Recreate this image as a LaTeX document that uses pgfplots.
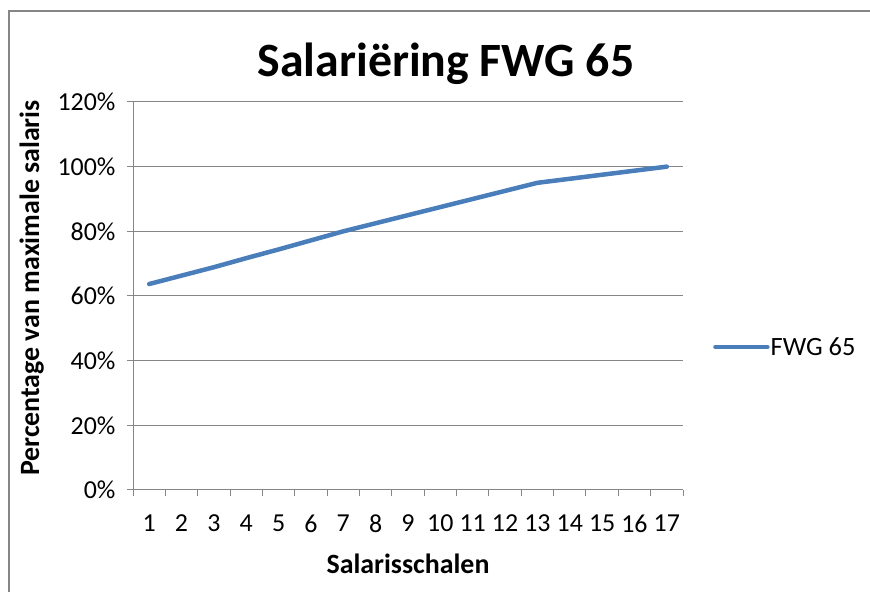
\documentclass[border=0pt]{standalone}
\usepackage{fontspec}
\setmainfont{Carlito}
\usepackage{pgfplots}
\pgfplotsset{compat=1.18}
\definecolor{lineblue}{HTML}{4A7EBB}
\definecolor{gridgray}{HTML}{868686}
\begin{document}
\begin{tikzpicture}[x=1bp,y=1bp]
\useasboundingbox (0,0) rectangle (870,592);
\draw[gridgray, line width=1.5bp] (9,0) -- (9,581) -- (870,581);
\begin{axis}[
  at={(133bp,102bp)}, anchor=south west,
  scale only axis, width=550bp, height=388bp,
  xmin=0.5, xmax=17.5, ymin=0, ymax=120,
  axis x line=bottom, axis y line=left,
  axis line style={-, gridgray, line width=1bp},
  xtick={0.5,1.5,...,17.5}, xticklabels={},
  extra x ticks={1,...,17},
  extra x tick style={major tick length=0pt, grid=none},
  ytick={0,20,...,120},
  yticklabel={\pgfmathprintnumber{\tick}\%},
  /pgf/number format/assume math mode=true,
  tick align=outside, major tick length=6bp,
  tick style={gridgray, line width=1bp},
  ymajorgrids, grid style={gridgray, line width=1bp},
  ticklabel style={font=\fontsize{26}{30}\selectfont, text=black},
  yticklabel style={xshift=-8bp},
  xticklabel style={yshift=-21bp},
  legend style={at={(1.0545,0.3686)}, anchor=west, draw=none, fill=none,
    inner sep=0pt, font=\fontsize{26.5}{31}\selectfont,
    nodes={inner sep=1bp}},
  legend image code/.code={\draw[#1] (0bp,0bp) -- (52bp,0bp);},
  legend cell align=left,
  clip=false,
]
\addplot[lineblue, line width=4.5bp, line cap=round, line join=round] coordinates {
(1,63.7) (2,66.3) (3,68.9) (4,71.7) (5,74.4) (6,77.2) (7,80.0) (8,82.5) (9,85.0)
(10,87.5) (11,90.0) (12,92.5) (13,95.0) (14,96.25) (15,97.5) (16,98.75) (17,100)
};
\addlegendentry{FWG 65}
\end{axis}
\node[font=\fontsize{48}{57}\selectfont\bfseries, anchor=base] at (446,515) {Salariëring FWG 65};
\node[font=\fontsize{28}{32}\selectfont\bfseries, anchor=base] at (408,18) {Salarisschalen};
\node[font=\fontsize{28}{32}\selectfont\bfseries, anchor=base, rotate=90] at (39,304) {Percentage van maximale salaris};
\end{tikzpicture}
\end{document}
